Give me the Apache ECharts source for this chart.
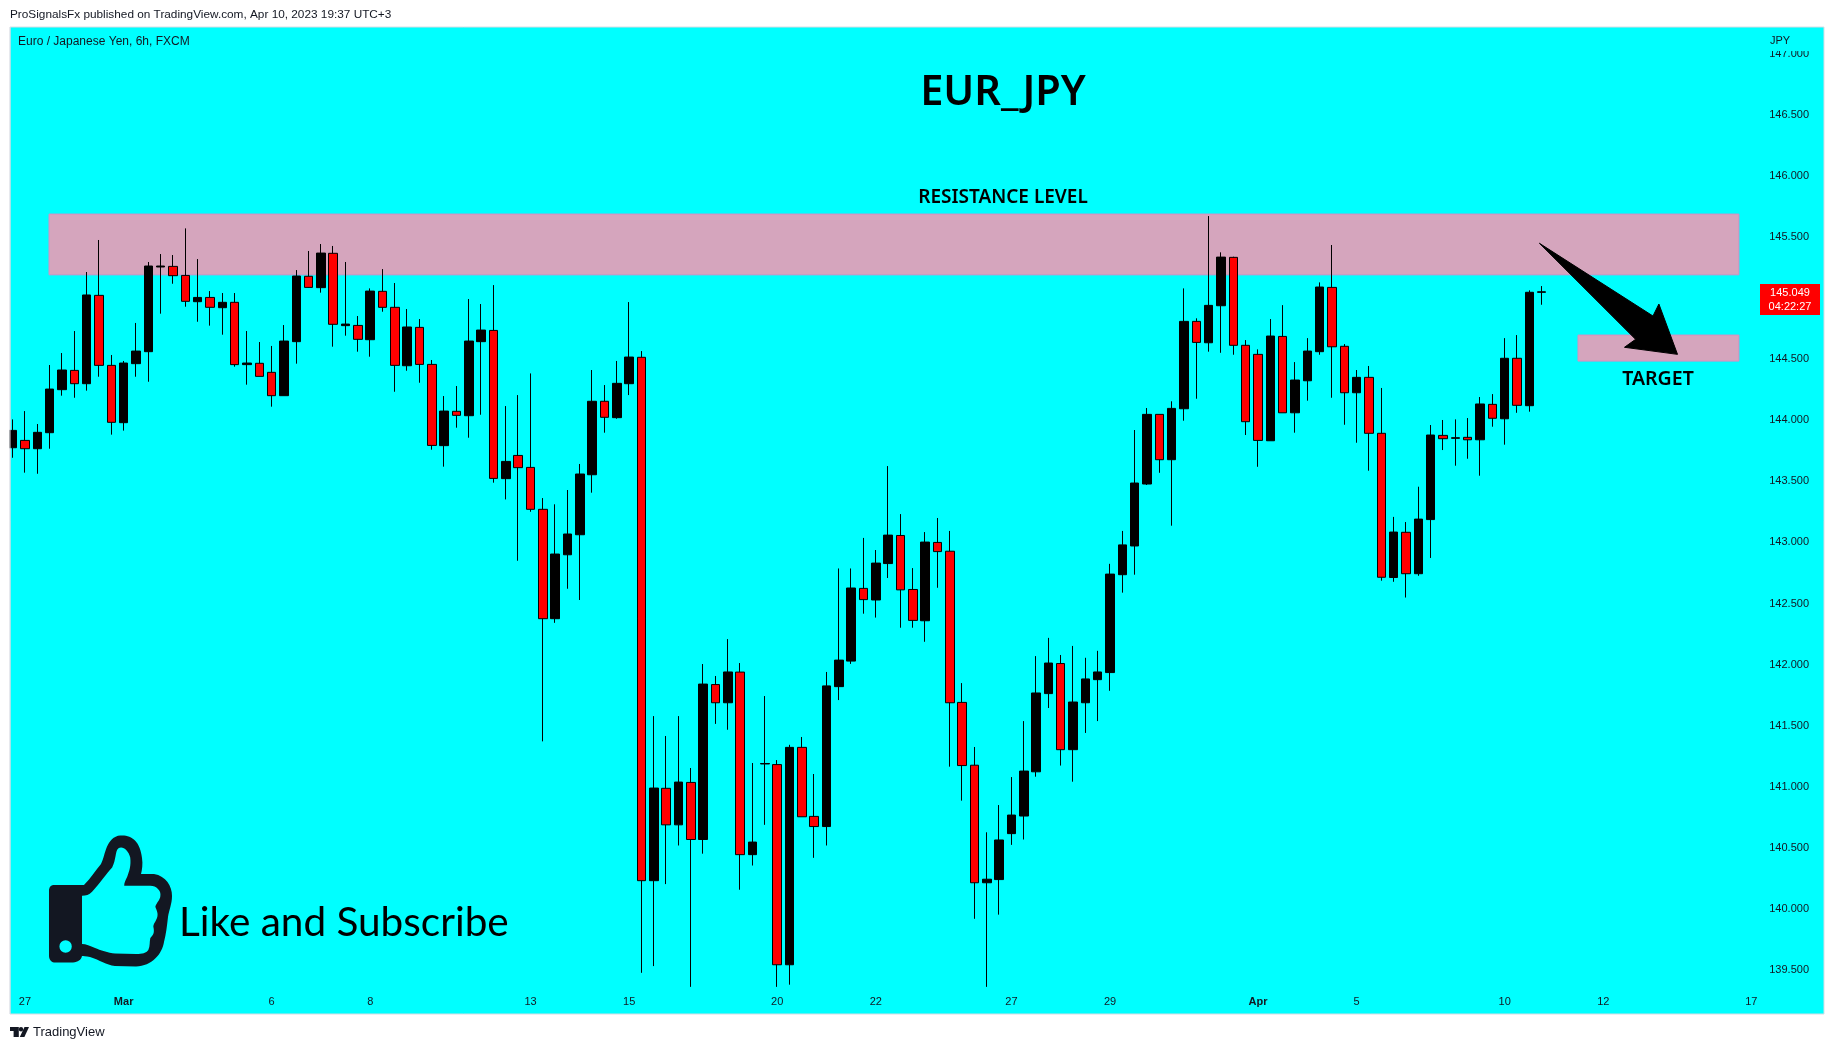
<!DOCTYPE html>
<html>
<head>
<meta charset="utf-8">
<script src="https://cdn.jsdelivr.net/npm/echarts@6/dist/echarts.min.js"></script>
<style>html,body{margin:0;padding:0;background:#fff}#c{width:1834px;height:1050px}</style>
</head>
<body>
<div id="c"></div>
<script>
// Candle values, one per 6h bar
const opens = [143.775,143.835,143.767,143.898,144.250,144.408,144.299,145.022,144.449,143.980,144.463,144.561,145.254,145.259,145.185,144.970,145.005,144.921,144.965,144.455,144.466,144.392,144.201,144.643,145.178,145.085,145.366,144.774,144.776,144.659,145.055,144.924,144.446,144.760,144.457,143.792,144.073,144.037,144.643,144.735,143.522,143.712,143.614,143.271,142.376,142.899,143.063,143.554,144.155,144.021,144.299,144.515,140.232,140.988,140.689,141.036,140.569,141.837,141.688,141.939,140.445,141.187,141.182,139.544,141.323,140.758,140.675,141.820,142.029,142.624,142.529,142.827,143.057,142.615,142.359,143.000,142.928,141.691,141.177,140.215,140.241,140.617,140.761,141.123,141.763,142.009,141.304,141.688,141.877,141.935,142.736,142.971,143.478,144.048,143.677,144.094,144.809,144.634,144.937,145.333,144.613,144.539,143.832,144.686,144.061,144.323,144.561,145.087,144.605,144.225,144.351,143.893,142.713,143.083,142.744,143.187,143.876,143.852,143.860,143.840,144.130,144.012,144.507,144.119,145.047];
const closes = [143.917,143.767,143.901,144.255,144.411,144.299,145.025,144.449,143.983,144.468,144.566,145.262,145.262,145.183,144.973,145.005,144.924,144.965,144.455,144.468,144.359,144.201,144.648,145.180,145.087,145.368,144.785,144.787,144.662,145.057,144.924,144.449,144.763,144.457,143.794,144.075,144.040,144.648,144.738,143.524,143.663,143.612,143.271,142.376,142.905,143.069,143.560,144.155,144.024,144.302,144.517,140.232,140.990,140.689,141.039,140.569,141.841,141.688,141.940,140.445,140.548,141.191,139.544,141.323,140.755,140.675,141.826,142.037,142.627,142.532,142.831,143.060,142.612,142.362,143.003,142.925,141.688,141.174,140.215,140.244,140.565,140.769,141.129,141.768,142.013,141.304,141.694,141.883,141.940,142.741,142.980,143.486,144.048,143.677,144.097,144.809,144.637,144.940,145.335,144.613,143.988,143.835,144.689,144.061,144.329,144.566,145.090,144.601,144.225,144.351,143.893,142.715,143.085,142.744,143.191,143.879,143.849,143.857,143.840,144.133,144.016,144.507,144.122,145.047,145.051];
const lows = [143.693,143.571,143.562,143.767,144.201,144.184,144.242,144.356,143.882,143.915,144.356,144.315,144.872,145.117,144.929,144.806,144.774,144.700,144.438,144.291,144.359,144.111,144.201,144.463,145.085,145.044,144.602,144.692,144.561,144.520,144.888,144.233,144.405,144.307,143.759,143.620,143.939,143.857,144.045,143.489,143.352,142.850,143.251,141.372,142.342,142.621,142.529,143.407,143.898,144.012,144.206,139.478,139.533,140.204,140.520,139.363,140.453,141.515,141.467,140.158,140.356,140.689,139.363,139.381,140.755,140.419,140.520,141.710,142.006,142.417,142.385,142.709,142.302,142.302,142.187,142.629,141.165,140.887,139.920,139.363,139.954,140.525,140.569,141.083,141.645,141.174,141.042,141.441,141.538,141.786,142.589,142.736,143.470,143.570,143.137,143.996,144.176,144.561,144.552,144.536,143.879,143.619,143.832,144.061,143.898,144.160,144.536,144.184,143.963,143.816,143.587,142.687,142.678,142.549,142.727,142.873,143.756,143.628,143.685,143.546,143.947,143.800,144.061,144.070,144.945];
const highs = [144.007,144.075,143.969,144.452,144.550,144.730,145.213,145.475,144.534,144.485,144.796,145.295,145.360,145.352,145.570,145.319,145.057,145.041,145.041,144.730,144.640,144.608,144.779,145.229,145.385,145.442,145.426,145.295,144.853,145.079,145.237,145.123,144.910,144.828,144.493,144.198,144.280,144.992,144.951,145.106,144.116,144.206,144.383,143.363,143.312,143.429,143.642,144.411,144.288,144.485,144.967,144.566,141.579,141.416,141.579,141.154,142.005,141.907,142.209,142.013,141.195,141.743,141.219,141.344,141.408,141.105,141.940,142.787,142.787,143.037,142.938,143.625,143.232,142.790,143.085,143.200,143.094,141.849,141.326,140.628,140.851,141.080,141.538,142.070,142.219,142.079,142.153,142.056,142.113,142.825,143.094,143.920,144.100,144.048,144.155,145.079,144.834,145.671,145.374,145.338,144.656,144.580,144.828,144.942,144.476,144.672,145.128,145.434,144.623,144.411,144.444,144.264,143.209,143.167,143.456,143.961,144.002,144.007,144.018,144.190,144.214,144.672,144.697,145.063,145.098];

// Axis ticks
const priceTicks = [139.5,140,140.5,141,141.5,142,142.5,143,143.5,144,144.5,145.5,146,146.5,147];
const timeTickBars = [1,9,21,29,42,50,62,70,81,89,101,109,121,129,141];
const timeTickLabels = ['27','Mar','6','8','13','15','20','22','27','29','Apr','5','10','12','17'];

// Drawn zones on the chart: [first bar, last bar, lower price, upper price]
const resistanceZone = [2.95, 140.0, 145.190, 145.687];
const targetZone = [126.95, 140.0, 144.484, 144.697];

// Arrow drawing, in bars and prices
const arrowBars = [123.82,133.03,133.51,135.02,130.72,131.62];
const arrowPrices = [145.448,144.853,144.951,144.539,144.597,144.662];

const headerText = 'ProSignalsFx published on TradingView.com, Apr 10, 2023 19:37 UTC+3';
const symbolText = 'Euro / Japanese Yen, 6h, FXCM';
const lastPrice = '145.049';
const countdown = '04:22:27';

const INK = '#131722';
const UI = '"Liberation Sans", Arial, sans-serif';
const HEAD = '"Noto Sans", sans-serif';

const thumbOuter = 'M54 885 L84 885 C91 878 95 871 101 864 C105 858 105 840 118 836 C130 834 140 840 142 858 C143 864 142 870 141 874 L154 874 C166 876 172 886 172 896 C172 904 169 910 168 917 C167 926 166 934 164 942 C162 954 152 966 136 966.5 L115 966 C106 965 100 960 90 957 C86 956 83 956 82 956 C81 960 78 962 73 962.5 L54 962.5 C51 962 49 959 49 956 L49 891 C49 887 51 885 54 885 Z';
const thumbInner = 'M82 896 C86 896 89 895 92 892 C100 884 106 874 112 868 C116 860 115 852 118 849 C122 846 128 850 130 858 C131 866 129 872 127 877 C125 881 124 883 124 886 L150 886 C156 886 161 891 160 896 C160 900 156 903 155 907 C156 910 158 913 157 917 C156 921 153 924 153 927 C154 931 154 935 150 938 C149 942 150 946 148 950 C146 953 142 954 136 954 L115 953.5 C108 953 100 950 95 948 C90 946 86 944 82 944 Z';

function txt(text, x, y, font, fill, align) {
  return {type:'text', z:120, style:{text, x, y, font, fill:fill||INK, textAlign:align||'left', textVerticalAlign:'middle'}};
}

const chart = echarts.init(document.getElementById('c'), null, {renderer:'canvas'});
chart.setOption({
  animation:false,
  backgroundColor:'#ffffff',
  grid:{left:10, right:10, top:27, bottom:36, show:true, backgroundColor:'#00FFFF', borderColor:'#D8DCE3', borderWidth:1, containLabel:false},
  xAxis:{
    type:'value', min:-0.215, max:146.9,
    axisLine:{show:false}, axisTick:{show:false}, splitLine:{show:false},
    axisLabel:{
      inside:true, margin:7, color:INK, fontFamily:UI, fontSize:11,
      customValues:timeTickBars,
      formatter:v => {
        const s = timeTickLabels[timeTickBars.indexOf(v)];
        return /[A-Za-z]/.test(s) ? '{b|'+s+'}' : s;
      },
      rich:{b:{fontWeight:'bold', fontFamily:UI, fontSize:11, color:INK}}
    }
  },
  yAxis:{
    type:'value', position:'right', min:139.141, max:147.218,
    axisLine:{show:false}, axisTick:{show:false}, splitLine:{show:false},
    axisLabel:{
      inside:true, margin:15, color:INK, fontFamily:UI, fontSize:11, align:'right',
      verticalAlign:'middle', padding:[4,0,0,0],
      customValues:priceTicks,
      formatter:v => v.toFixed(3)
    }
  },
  series:[
    {
      type:'line', data:[], z:1, silent:true,
      markArea:{
        silent:true, z:1,
        itemStyle:{color:'#D5A5BD', borderColor:'#D58FC3', borderWidth:1},
        data:[
          [{coord:[resistanceZone[0],resistanceZone[3]]},{coord:[resistanceZone[1],resistanceZone[2]]}],
          [{coord:[targetZone[0],targetZone[3]]},{coord:[targetZone[1],targetZone[2]]}]
        ]
      }
    },
    {
      type:'candlestick', z:3, barWidth:9, clip:true,
      encode:{x:0, y:[1,2,3,4]},
      data:opens.map((o,i) => [i,o,closes[i],lows[i],highs[i]]),
      itemStyle:{color:'#000000', color0:'#FF0000', borderColor:'#000000', borderColor0:'#000000', borderWidth:1}
    },
    {
      type:'custom', z:5, silent:true, clip:false,
      data:[[0]],
      encode:{x:0},
      renderItem:(p, api) => ({
        type:'polygon',
        shape:{points:arrowBars.map((b,i) => api.coord([b, arrowPrices[i]]))},
        style:{fill:'#000000', stroke:'#000000', lineWidth:1, lineJoin:'round'}
      })
    },
    {
      type:'custom', z:6, silent:true, clip:false,
      data:[[0]],
      encode:{x:0},
      renderItem:() => ({
        type:'group',
        children:[
          {type:'path', shape:{pathData:thumbOuter, x:49, y:835.5, width:123, height:131, layout:'cover'}, style:{fill:INK}},
          {type:'path', shape:{pathData:thumbInner, x:82, y:847.5, width:78.5, height:106.5, layout:'cover'}, style:{fill:'#00FFFF'}},
          {type:'circle', shape:{cx:65.6, cy:946.5, r:6.2}, style:{fill:'#00FFFF'}}
        ]
      })
    }
  ],
  graphic:[
    // page margin left of the plot, so the first bar is cut at the frame
    {type:'rect', z:90, shape:{x:0,y:27,width:9.5,height:988}, style:{fill:'#ffffff'}},
    {type:'rect', z:91, shape:{x:9.5,y:27,width:1,height:987}, style:{fill:'#D8DCE3'}},
    txt(headerText, 10, 15, '11.8px '+UI, INK),
    txt(symbolText, 18, 42, '12px '+UI, INK),
    {type:'rect', z:110, shape:{x:1762,y:28,width:56,height:23}, style:{fill:'#00FFFF'}},
    txt('JPY', 1770, 41, '11px '+UI, INK),
    txt('EUR_JPY', 1003, 93, '600 41.5px '+HEAD, '#000000', 'center'),
    txt('RESISTANCE LEVEL', 1003, 198, '600 19px '+HEAD, '#000000', 'center'),
    txt('TARGET', 1658, 379, '600 19.5px '+HEAD, '#000000', 'center'),
    txt('Like and Subscribe', 179, 923, '40.5px Lato, '+HEAD, '#000000'),
    {type:'rect', z:115, shape:{x:1760,y:284,width:60,height:31}, style:{fill:'#FF0000'}},
    txt(lastPrice, 1790, 292.7, '11px '+UI, '#ffffff', 'center'),
    txt(countdown, 1790, 306.7, '11px '+UI, '#ffffff', 'center'),
    // TradingView logo and name
    {type:'polygon', z:100, shape:{points:[[10,1027],[18.8,1027],[18.8,1037],[13.6,1037],[13.6,1031],[10,1031]]}, style:{fill:'#131722'}},
    {type:'circle', z:100, shape:{cx:21,cy:1029.2,r:2.2}, style:{fill:'#131722'}},
    {type:'polygon', z:100, shape:{points:[[24.5,1027],[29,1027],[24.4,1037],[19.8,1037]]}, style:{fill:'#131722'}},
    txt('TradingView', 33, 1032, '13px '+UI, INK)
  ]
});
</script>
</body>
</html>
